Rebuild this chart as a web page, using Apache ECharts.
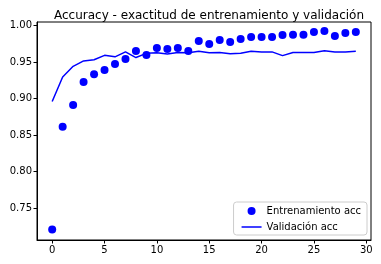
<!DOCTYPE html>
<html><head><meta charset="utf-8">
<script src="https://cdn.jsdelivr.net/npm/echarts@6/dist/echarts.min.js"></script>
<style>html,body{margin:0;padding:0;background:#fff}#c{width:381px;height:264px}</style>
</head><body><div id="c"></div>
<script>
const epochs = [0,1,2,3,4,5,6,7,8,9,10,11,12,13,14,15,16,17,18,19,20,21,22,23,24,25,26,27,28,29];
const trainAcc = [0.721,0.8615,0.891,0.9227,0.933,0.939,0.9473,0.954,0.965,0.9596,0.969,0.9678,0.969,0.965,0.9787,0.9746,0.980,0.9773,0.9814,0.984,0.984,0.984,0.9869,0.987,0.987,0.991,0.9924,0.9855,0.9896,0.991];
const valAcc = [0.8959,0.9295,0.944,0.9514,0.953,0.959,0.957,0.9637,0.956,0.9617,0.9627,0.961,0.963,0.9627,0.9645,0.9627,0.963,0.9613,0.962,0.9645,0.9637,0.9637,0.9586,0.963,0.963,0.963,0.9654,0.9637,0.9637,0.9645];
const xTicks = [0,5,10,15,20,25,30];
const yTicks = [0.75,0.80,0.85,0.90,0.95,1.00];
const titleText = 'Accuracy - exactitud de entrenamiento y validación';
const trainName = 'Entrenamiento acc';
const valName = 'Validación acc';

const font = 'DejaVu Sans';
const chart = echarts.init(document.getElementById('c'), null, {renderer:'canvas'});
chart.setOption({
  animation: false,
  textStyle: {fontFamily: font},
  title: {text: titleText, left: 204, top: 5, textAlign: 'center',
    textStyle: {fontFamily: font, fontSize: 12, fontWeight: 'normal', color: '#000'}},
  grid: {left: 37, right: 10, top: 22, bottom: 24, show: true, borderColor: '#000', borderWidth: 1, backgroundColor: 'transparent'},
  xAxis: {type: 'value', min: -1.45, max: 30.45,
    splitLine: {show: false},
    axisLine: {show: true, onZero: false, lineStyle: {color: '#000', width: 1}},
    axisTick: {show: true, inside: false, length: 3.5, customValues: xTicks, lineStyle: {color: '#000'}},
    axisLabel: {customValues: xTicks, fontSize: 10, color: '#000', fontFamily: font, margin: 5}},
  yAxis: {type: 'value', min: 0.7065, max: 1.0046,
    splitLine: {show: false},
    axisLine: {show: true, onZero: false, lineStyle: {color: '#000', width: 1}},
    axisTick: {show: true, inside: false, length: 3.5, customValues: yTicks, lineStyle: {color: '#000'}},
    axisLabel: {customValues: yTicks, fontSize: 10, color: '#000', fontFamily: font, margin: 5,
      formatter: v => v.toFixed(2)}},
  legend: {orient: 'vertical', right: 14, bottom: 29, padding: [4, 6, 3, 8], itemGap: 6,
    itemWidth: 20, itemHeight: 8,
    backgroundColor: 'rgba(255,255,255,0.8)', borderColor: '#ccc', borderWidth: 1, borderRadius: 3,
    textStyle: {fontSize: 10, color: '#000', fontFamily: font},
    data: [
      {name: trainName, icon: 'circle'},
      {name: valName, icon: 'path://M0,0 L20,0 L20,1.5 L0,1.5 Z'}
    ]},
  series: [
    {name: trainName, type: 'scatter', symbol: 'circle', symbolSize: 8,
      itemStyle: {color: '#0000ff', opacity: 1},
      emphasis: {disabled: true},
      data: epochs.map((e, i) => [e, trainAcc[i]])},
    {name: valName, type: 'line', symbol: 'none', lineStyle: {color: '#0000ff', width: 1.5},
      itemStyle: {color: '#0000ff', opacity: 1},
      data: epochs.map((e, i) => [e, valAcc[i]])}
  ]
});
</script></body></html>
